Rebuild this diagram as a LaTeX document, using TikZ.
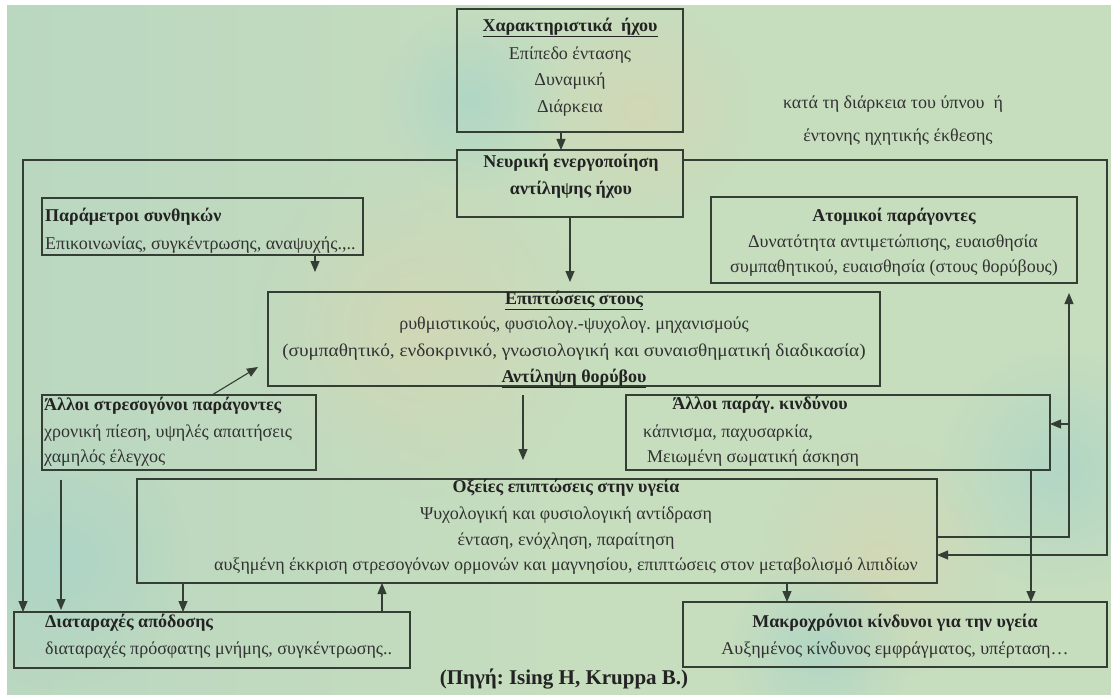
\documentclass[tikz,border=0pt]{standalone}
\usepackage{fontspec}
\setmainfont{Liberation Serif}
\usetikzlibrary{arrows.meta,fadings}
\tikzfading[name=blotfade, inner color=transparent!0, outer color=transparent!100]
\frenchspacing
\definecolor{bgA}{RGB}{198,221,190}
\definecolor{bgB}{RGB}{186,215,192}
\definecolor{blot1}{RGB}{214,214,178}
\definecolor{blot2}{RGB}{168,212,200}
\definecolor{ln}{RGB}{52,62,52}
\definecolor{tx}{RGB}{50,50,50}
\definecolor{tb}{RGB}{35,35,35}
\begin{document}
\begin{tikzpicture}[x=1pt,y=-1pt,
  font=\fontsize{18}{22}\selectfont, text=tx,
  box/.style={draw=ln, line width=1.1pt, inner sep=0pt, outer sep=0pt, anchor=north west},
  txt/.style={anchor=mid, inner sep=0pt},
  txl/.style={anchor=mid west, inner sep=0pt},
  hd/.style={font=\fontsize{18}{22}\selectfont\bfseries, text=tb},
  conn/.style={draw=ln, line width=1.1pt},
  arr/.style={conn, -{Triangle[length=11pt,width=9pt]}},
  blot/.style={path fading=blotfade, opacity=0.7}]
\useasboundingbox (0,0) rectangle (1111,695);
\fill[white] (0,0) rectangle (1111,695);
\begin{scope}
\clip (7,6) rectangle (1111,695);
\shade[left color=bgB, right color=bgA, middle color=bgA] (7,6) rectangle (1111,695);
\fill[blot1, blot] (420,330) circle (170pt);
\fill[blot1, blot] (880,560) circle (120pt);
\fill[blot1, blot] (640,110) circle (110pt);
\fill[blot2, blot] (60,560) circle (130pt);
\fill[blot2, blot] (1060,470) circle (120pt);
\fill[blot2, blot] (470,100) circle (90pt);
\fill[blot2, blot] (820,650) circle (90pt);
\end{scope}
% boxes
\node[box, minimum width=226pt, minimum height=123pt] (top) at (457,9) {};
\node[box, minimum width=226pt, minimum height=67pt] (neur) at (457,150) {};
\node[box, minimum width=321pt, minimum height=57pt] (param) at (42,198) {};
\node[box, minimum width=366pt, minimum height=86pt] (atom) at (711,197) {};
\node[box, minimum width=612pt, minimum height=94pt] (epipt) at (268,292) {};
\node[box, minimum width=274pt, minimum height=75pt] (stress) at (42,395) {};
\node[box, minimum width=424pt, minimum height=75pt] (allpar) at (626,395) {};
\node[box, minimum width=800pt, minimum height=104pt] (oxeies) at (137,479) {};
\node[box, minimum width=396pt, minimum height=56pt] (diat) at (14,612) {};
\node[box, minimum width=424pt, minimum height=65pt] (makro) at (683,602) {};
% texts
\node[txt,hd] (t1) at (570,29) {\underline{Χαρακτηριστικά\ \ ήχου}};
\node[txt] (t2) at (570,57) {Επίπεδο έντασης};
\node[txt] (t3) at (570,83) {Δυναμική};
\node[txt] (t4) at (570,110) {Διάρκεια};
\node[txt,hd] (n1) at (571,165) {Νευρική ενεργοποίηση};
\node[txt,hd] (n2) at (571,192) {αντίληψης ήχου};
\node[txt] (k1) at (893,106) {κατά τη διάρκεια του ύπνου\ \ ή};
\node[txt] (k2) at (898,139) {έντονης ηχητικής έκθεσης};
\node[txl,hd] (p1) at (45,219) {Παράμετροι συνθηκών};
\node[txl] (p2) at (45,247) {Επικοινωνίας, συγκέντρωσης, αναψυχής.,..};
\node[txt,hd] (a1) at (894,219) {Ατομικοί παράγοντες};
\node[txt] (a2) at (893,245) {Δυνατότητα αντιμετώπισης, ευαισθησία};
\node[txt] (a3) at (894,270) {συμπαθητικού, ευαισθησία (στους θορύβους)};
\node[txt,hd] (e1) at (574,302) {\underline{Επιπτώσεις στους}};
\node[txt] (e2) at (574,327) {ρυθμιστικούς, φυσιολογ.-ψυχολογ. μηχανισμούς};
\node[txt, xscale=1.07] (e3) at (574,354) {(συμπαθητικό, ενδοκρινικό, γνωσιολογική και συναισθηματική διαδικασία)};
\node[txt,hd] (e4) at (574,380) {\underline{Αντίληψη θορύβου}};
\node[txl,hd] (s1) at (44,408) {Άλλοι στρεσογόνοι παράγοντες};
\node[txl] (s2) at (44,435) {χρονική πίεση, υψηλές απαιτήσεις};
\node[txl] (s3) at (44,460) {χαμηλός έλεγχος};
\node[txt,hd] (ap1) at (760,407) {Άλλοι παράγ. κινδύνου};
\node[txl] (ap2) at (643,435) {κάπνισμα, παχυσαρκία,};
\node[txl] (ap3) at (647,460) {Μειωμένη σωματική άσκηση};
\node[txt,hd] (o1) at (566,490) {Οξείες επιπτώσεις στην υγεία};
\node[txt] (o2) at (566,517) {Ψυχολογική και φυσιολογική αντίδραση};
\node[txt] (o3) at (566,543) {ένταση, ενόχληση, παραίτηση};
\node[txt] (o4) at (566,568) {αυξημένη έκκριση στρεσογόνων ορμονών και μαγνησίου, επιπτώσεις στον μεταβολισμό λιπιδίων};
\node[txl,hd] (d1) at (45,625) {Διαταραχές απόδοσης};
\node[txl] (d2) at (45,652) {διαταραχές πρόσφατης μνήμης, συγκέντρωσης..};
\node[txt,hd] (m1) at (895,625) {Μακροχρόνιοι κίνδυνοι για την υγεία};
\node[txt] (m2) at (895,652) {Αυξημένος κίνδυνος εμφράγματος, υπέρταση…};
\node[txt,hd,font=\fontsize{21}{24}\selectfont\bfseries] (src) at (564,682) {(Πηγή: Ising H, Kruppa B.)};
% connectors
\draw[arr] ([xshift=-9pt]top.south) -- ([xshift=-9pt]neur.north);
\draw[arr, shorten >=10pt] (neur.south) -- (neur.south |- epipt.north);
\draw[arr] ([yshift=-10pt]neur.north west) -| ([xshift=9pt]diat.north west);
\coordinate (rc) at (1107,555);
\draw[arr] ([yshift=-10pt]neur.north east) -| (rc) -- (oxeies.east |- rc);
\coordinate (pend) at (315,272);
\draw[arr] (param.south -| pend) -- (pend);
\coordinate (send) at (258,367);
\draw[arr] ([xshift=33pt]stress.north) -- (send);
\draw[arr, shorten <=9pt, shorten >=19pt] ([xshift=-51pt]epipt.south) -- ([xshift=-51pt]epipt.south |- oxeies.north);
\draw[arr, shorten <=10pt, shorten >=2pt] ([xshift=-118pt]stress.south) -- ([xshift=-118pt]stress.south |- diat.north);
\draw[arr] ([xshift=-354pt]oxeies.south) -- ([xshift=-354pt]oxeies.south |- diat.north);
\draw[arr] ([xshift=170pt]diat.north) -- ([xshift=170pt]diat.north |- oxeies.south);
\draw[arr] ([xshift=250pt]oxeies.south) -- ([xshift=250pt]oxeies.south |- makro.north);
\draw[arr] ([xshift=193pt]allpar.south) -- ([xshift=193pt]allpar.south |- makro.north);
\coordinate (vr) at (1069,537);
\coordinate (br) at (1069,424);
\draw[arr, shorten >=10pt] (oxeies.east |- vr) -- (vr) -- (vr |- atom.south);
\draw[arr] (br) -- (allpar.east |- br);
\end{tikzpicture}
\end{document}
